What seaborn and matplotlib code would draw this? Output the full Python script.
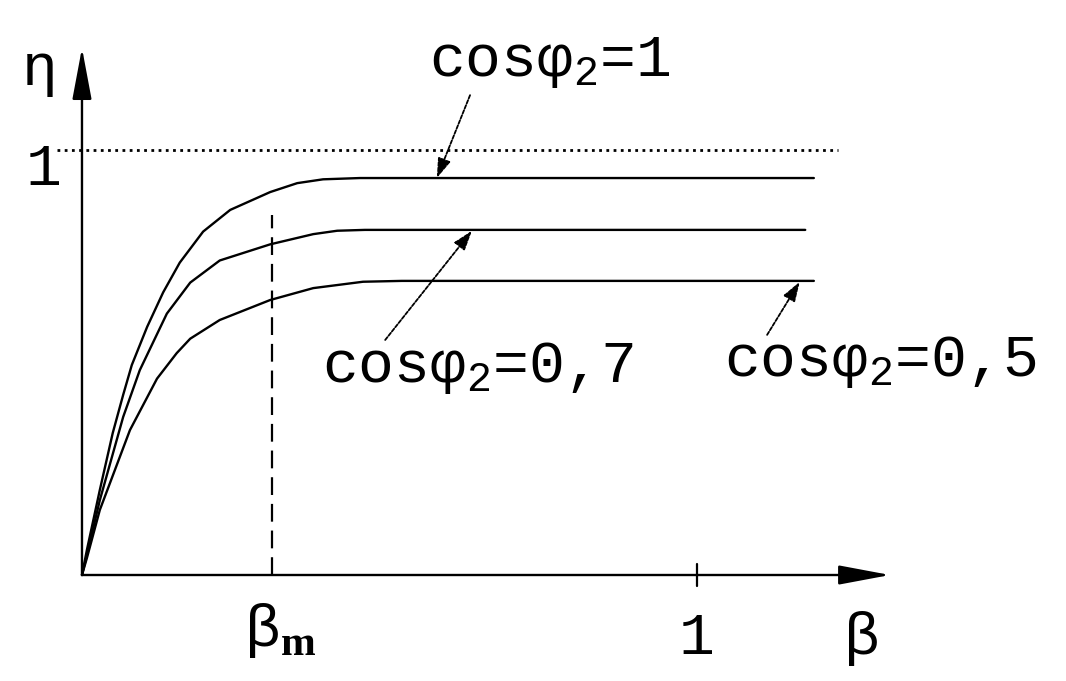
import pandas as pd
import seaborn as sns
import matplotlib.pyplot as plt

# efficiency curves eta(beta) for three power factors
beta_top = [0.0, 0.008, 0.029, 0.050, 0.067, 0.081, 0.106, 0.132, 0.159, 0.197,
            0.241, 0.306, 0.350, 0.392, 0.452, 1.19]
eta_top = [0.0, 0.059, 0.200, 0.334, 0.424, 0.494, 0.584, 0.665, 0.735, 0.808,
           0.859, 0.901, 0.922, 0.931, 0.934, 0.934]

beta_mid = [0.0, 0.008, 0.029, 0.067, 0.094, 0.138, 0.176, 0.224, 0.306, 0.376,
            0.415, 0.46, 1.176]
eta_mid = [0.0, 0.047, 0.176, 0.372, 0.482, 0.615, 0.688, 0.740, 0.778, 0.802,
           0.810, 0.812, 0.812]

beta_low = [0.0, 0.008, 0.029, 0.078, 0.122, 0.154, 0.176, 0.224, 0.306, 0.376,
            0.457, 0.52, 1.19]
eta_low = [0.0, 0.040, 0.153, 0.341, 0.462, 0.522, 0.556, 0.600, 0.647, 0.675,
           0.690, 0.692, 0.692]

labels = ["cosφ$_2$=1", "cosφ$_2$=0,7", "cosφ$_2$=0,5"]
beta_m = 0.309

df = pd.concat([
    pd.DataFrame({"beta": beta_top, "eta": eta_top, "curve": labels[0]}),
    pd.DataFrame({"beta": beta_mid, "eta": eta_mid, "curve": labels[1]}),
    pd.DataFrame({"beta": beta_low, "eta": eta_low, "curve": labels[2]}),
])

sns.set_style("white")
plt.rcParams["font.family"] = ["Liberation Mono", "DejaVu Sans"]
plt.rcParams["mathtext.fontset"] = "custom"
plt.rcParams["mathtext.rm"] = "Liberation Mono"
plt.rcParams["mathtext.bf"] = "Liberation Serif:bold"
plt.rcParams["text.color"] = "black"

fig = plt.figure(figsize=(10.66, 6.81), dpi=100)
ax = fig.add_axes([0, 0, 1, 1])
sns.lineplot(data=df, x="beta", y="eta", units="curve", estimator=None,
             color="black", linewidth=1.7, ax=ax, sort=False)

ax.set_xlim(-0.1333, 1.6)
ax.set_ylim(-0.2494, 1.3529)
ax.set_axis_off()

# axes with arrows
arrow = dict(arrowstyle="-|>,head_length=1.6,head_width=0.3", color="black",
             lw=1.7, mutation_scale=20, shrinkA=0, shrinkB=0)
ax.annotate("", xy=(1.314, 0), xytext=(0, 0), arrowprops=arrow)
ax.annotate("", xy=(0, 1.24), xytext=(0, 0), arrowprops=arrow)

# eta = 1 dotted level and beta_m dashed marker
ax.plot([-0.04, 1.23], [1, 1], color="black", lw=2, linestyle=(0, (1, 1.6)))
ax.plot([beta_m, beta_m], [0, 0.847], color="black", lw=1.6, linestyle=(0, (8, 4)))
ax.plot([1, 1], [-0.025, 0.025], color="black", lw=1.6)

fs = 43
ax.text(-0.068, 1.19, "η", fontsize=fs, ha="center", va="center")
ax.text(-0.062, 0.955, "1", fontsize=fs, ha="center", va="center")
ax.text(1.0, -0.15, "1", fontsize=fs, ha="center", va="center")
ax.text(1.268, -0.15, "β", fontsize=fs, ha="center", va="center")
ax.text(0.322, -0.13, "β$_\\mathbf{m}$", fontsize=fs, ha="center", va="center")

# curve labels with pointers
pointer = dict(arrowstyle="-|>,head_length=0.6,head_width=0.2", color="black",
               lw=1.3, linestyle=(0, (2, 1)), mutation_scale=20, shrinkA=0, shrinkB=0)
ax.text(0.761, 1.207, labels[0], fontsize=fs, ha="center", va="center")
ax.annotate("", xy=(0.577, 0.934), xytext=(0.631, 1.129), arrowprops=pointer)
ax.text(0.644, 0.487, labels[1], fontsize=fs, ha="center", va="center")
ax.annotate("", xy=(0.634, 0.81), xytext=(0.493, 0.553), arrowprops=pointer)
ax.text(1.298, 0.501, labels[2], fontsize=fs, ha="center", va="center")
ax.annotate("", xy=(1.167, 0.69), xytext=(1.114, 0.565), arrowprops=pointer)

fig.savefig("out.png", dpi=100)
plt.close(fig)
